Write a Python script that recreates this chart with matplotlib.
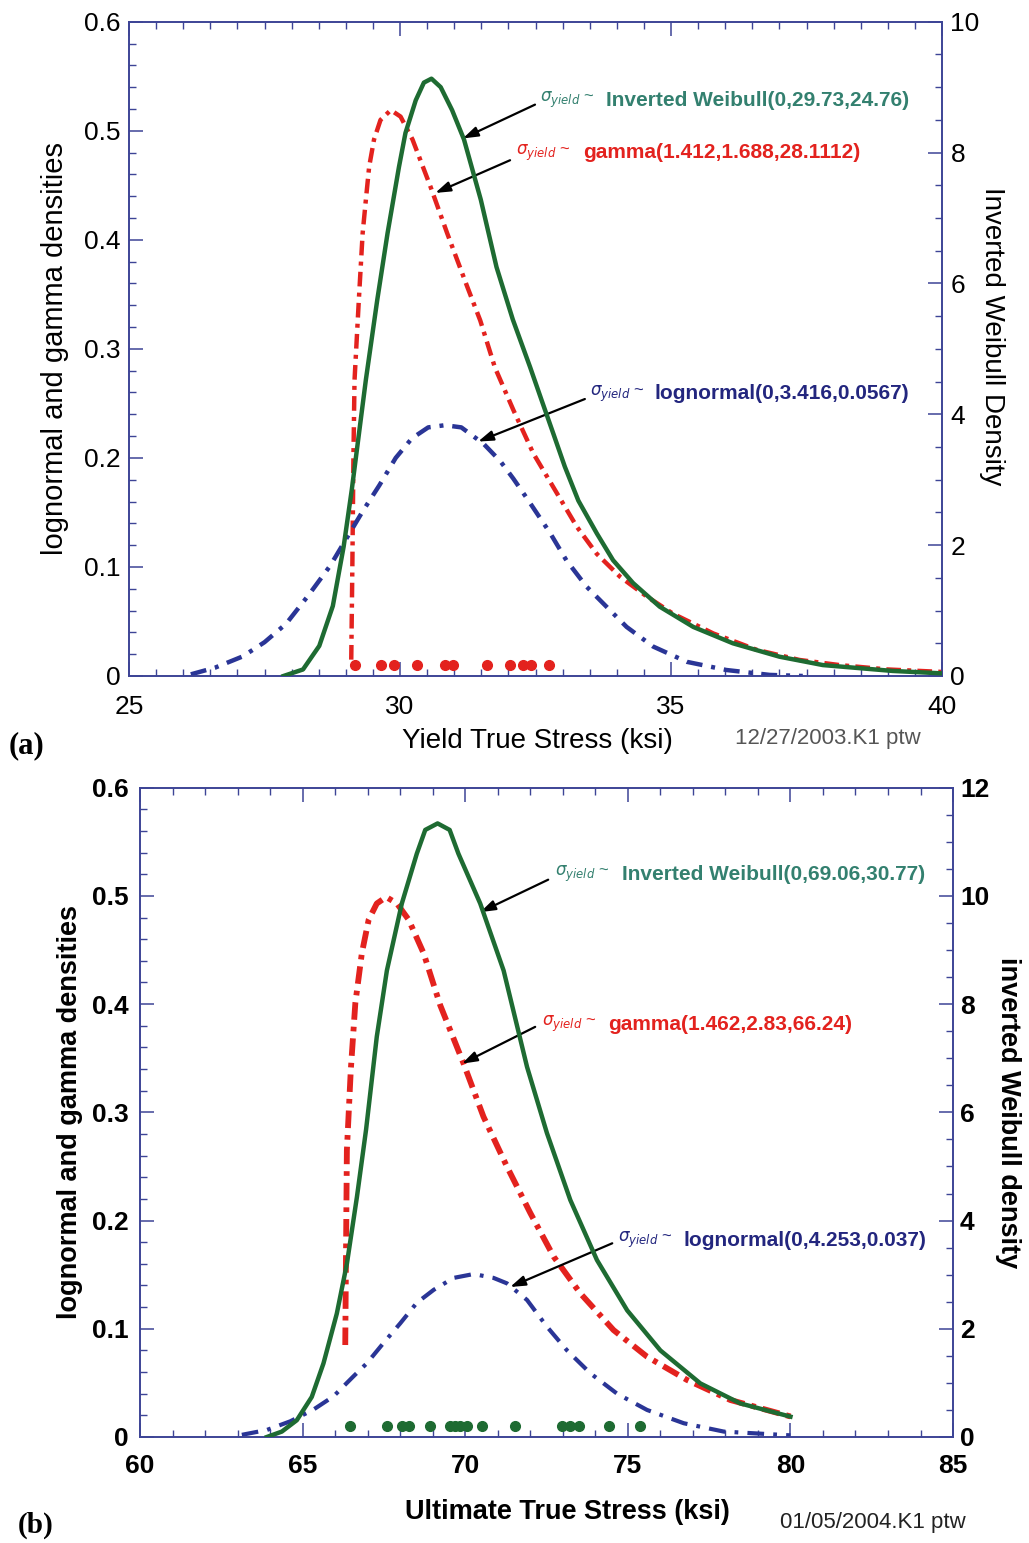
import numpy as np
import matplotlib
matplotlib.use("Agg")
import matplotlib.pyplot as plt
from matplotlib.ticker import MultipleLocator
from matplotlib import font_manager

## data, panel (a): yield stress
yx_weib = [27.85, 28.21, 28.51, 28.76, 28.96, 29.11, 29.26, 29.37, 29.58, 29.77, 29.98, 30.10,
           30.29, 30.44, 30.58, 30.75, 30.96, 31.18, 31.49, 31.78, 32.08, 32.40, 32.61, 32.83,
           33.04, 33.29, 33.63, 33.93, 34.30, 34.79, 35.41, 36.14, 37.00, 37.80, 39.09, 40.0]
yy_weib = [0.0, 0.10, 0.46, 1.07, 1.98, 2.85, 3.82, 4.53, 5.75, 6.77, 7.78, 8.30,
           8.80, 9.07, 9.13, 9.00, 8.65, 8.20, 7.28, 6.25, 5.45, 4.72, 4.22, 3.70,
           3.20, 2.68, 2.18, 1.77, 1.42, 1.06, 0.75, 0.50, 0.295, 0.167, 0.077, 0.04]   # right axis units

yx_gamma = [29.10, 29.12, 29.14, 29.16, 29.24, 29.31, 29.37, 29.43, 29.52, 29.64, 29.83, 30.01,
            30.23, 30.56, 30.87, 31.24, 31.48, 31.75, 32.09, 32.46, 32.83, 33.26, 33.63, 34.06,
            34.55, 35.04, 35.78, 36.58, 37.37, 38.11, 38.99, 40.0]
yy_gamma = [0.015, 0.10, 0.20, 0.271, 0.345, 0.406, 0.437, 0.467, 0.492, 0.510, 0.519, 0.513,
            0.492, 0.449, 0.406, 0.357, 0.326, 0.283, 0.244, 0.204, 0.173, 0.137, 0.112, 0.091,
            0.073, 0.057, 0.039, 0.024, 0.0147, 0.010, 0.006, 0.0037]

yx_logn = [26.14, 26.59, 27.10, 27.50, 27.90, 28.31, 28.71, 29.01, 29.31, 29.62, 29.92, 30.22,
           30.52, 30.83, 31.13, 31.54, 31.85, 32.09, 32.34, 32.77, 33.07, 33.44, 33.81, 34.18,
           34.67, 35.29, 36.02, 36.82, 37.43]
yy_logn = [0.0015, 0.0077, 0.018, 0.031, 0.048, 0.074, 0.101, 0.126, 0.151, 0.175, 0.200, 0.218,
           0.228, 0.230, 0.228, 0.213, 0.197, 0.181, 0.163, 0.131, 0.106, 0.082, 0.0635, 0.045,
           0.027, 0.013, 0.0055, 0.001, 0.0]

yield_obs = [29.16, 29.64, 29.89, 30.32, 30.83, 30.98, 31.60, 32.02, 32.26, 32.41, 32.74]

## panel (b): ultimate stress
ux_weib = [63.9, 64.36, 64.82, 65.28, 65.64, 66.05, 66.36, 66.67, 66.95, 67.28, 67.59, 68.05,
           68.51, 68.77, 69.15, 69.52, 69.79, 70.46, 71.18, 71.90, 72.51, 73.23, 74.05, 74.98,
           76.0, 77.23, 78.46, 80.0]
uy_weib = [0.0, 0.10, 0.31, 0.74, 1.36, 2.28, 3.20, 4.44, 5.68, 7.40, 8.62, 9.86,
           10.78, 11.22, 11.34, 11.22, 10.78, 9.86, 8.62, 6.84, 5.62, 4.38, 3.27, 2.34,
           1.60, 0.99, 0.62, 0.376]   # right axis units

ux_gamma = [66.31, 66.36, 66.48, 66.62, 66.82, 67.03, 67.28, 67.57, 67.90, 68.26, 68.72, 69.23,
            69.95, 70.56, 71.28, 72.0, 72.72, 73.54, 74.56, 75.59, 76.82, 78.15, 80.0]
uy_gamma = [0.085, 0.265, 0.339, 0.401, 0.447, 0.478, 0.493, 0.499, 0.493, 0.478, 0.447, 0.399,
            0.345, 0.296, 0.250, 0.207, 0.1666, 0.1327, 0.0988, 0.0742, 0.0527, 0.0342, 0.019]

ux_logn = [63.13, 63.90, 64.62, 65.33, 65.95, 66.56, 66.97, 67.49, 68.00, 68.51, 69.03, 69.64,
           70.26, 70.87, 71.28, 71.90, 72.51, 73.13, 73.85, 74.67, 75.59, 76.72, 77.95, 80.0]
uy_logn = [0.002, 0.0065, 0.0145, 0.0253, 0.0376, 0.056, 0.068, 0.087, 0.105, 0.124, 0.136, 0.147,
           0.1506, 0.147, 0.142, 0.1266, 0.102, 0.080, 0.0588, 0.040, 0.025, 0.0127, 0.005, 0.0015]

ult_obs = [66.46, 67.59, 68.05, 68.26, 68.92, 69.54, 69.69, 69.85, 70.05, 70.51, 71.54,
           72.98, 73.23, 73.49, 74.41, 75.38]

AXC = '#3d4496'
GREEN = '#1e6b32'
RED = '#e3221e'
BLUE = '#2a3596'
TEAL = '#33806f'
NAVY = '#23267e'
FONT = 'Liberation Sans'

plt.rcParams['font.family'] = FONT

# condensed face for the annotation texts, if there is one
try:
    font_manager.findfont(font_manager.FontProperties(family='Liberation Sans Narrow'),
                          fallback_to_default=False)
    ANN_FAMILY, ANN_SIZE = 'Liberation Sans Narrow', 18
except Exception:
    ANN_FAMILY, ANN_SIZE = FONT, 15

fig = plt.figure(figsize=(10.29, 15.43), dpi=100)


def style_axes(ax, axr, xmaj, xmin_, rmaj, weight, xpad, lpad, rpad):
    for a in (ax, axr):
        for s in a.spines.values():
            s.set_color(AXC)
            s.set_linewidth(1.2)
    ax.xaxis.set_major_locator(MultipleLocator(xmaj))
    ax.xaxis.set_minor_locator(MultipleLocator(xmin_))
    ax.yaxis.set_major_locator(MultipleLocator(0.1))
    ax.yaxis.set_minor_locator(MultipleLocator(0.02))
    axr.yaxis.set_major_locator(MultipleLocator(rmaj))
    axr.yaxis.set_minor_locator(MultipleLocator(0.5))
    ax.tick_params(which='both', direction='in', top=True, right=False, color=AXC)
    ax.tick_params(which='major', length=10, width=1.1)
    ax.tick_params(which='minor', length=5, width=1.0)
    ax.tick_params(axis='x', which='major', pad=xpad, labelsize=19)
    ax.tick_params(axis='y', which='major', pad=lpad, labelsize=19)
    axr.tick_params(which='both', direction='in', left=False, right=True, color=AXC)
    axr.tick_params(which='major', length=10, width=1.1, pad=rpad, labelsize=19)
    axr.tick_params(which='minor', length=5, width=1.0)
    for lab in ax.get_xticklabels() + ax.get_yticklabels() + axr.get_yticklabels():
        lab.set_fontweight(weight)


def ann(ax, sig_xy, txt_x, txt, color, tail, tip):
    ax.text(sig_xy[0], sig_xy[1], r'$\sigma_{yield}$ ~', color=color, fontsize=12,
            va='center', ha='left')
    ax.text(txt_x, sig_xy[1], txt, color=color, fontsize=ANN_SIZE, fontweight='bold',
            family=ANN_FAMILY, va='center', ha='left')
    ax.annotate('', xy=tip, xytext=tail,
                arrowprops=dict(arrowstyle='-|>,head_length=0.9,head_width=0.3',
                                color='black', lw=1.6, shrinkA=0, shrinkB=0))


# ---------------- panel (a)
ax1 = fig.add_axes([0.1254, 0.5619, 0.7901, 0.4240])
ax1r = ax1.twinx()
ax1.plot(yx_gamma, yy_gamma, color=RED, lw=3.2, dashes=(3.3, 1.4, 0.9, 1.4), zorder=3)
ax1.plot(yx_logn, yy_logn, color=BLUE, lw=3.2, dashes=(3.6, 2.0, 0.9, 2.0), zorder=3)
ax1.plot(yield_obs, [0.01] * len(yield_obs), ls='', marker='o', ms=7, color=RED, zorder=4)
ax1r.plot(yx_weib, yy_weib, color=GREEN, lw=3.2, zorder=3)
ax1.set_xlim(25, 40)
ax1.set_ylim(0, 0.6)
ax1r.set_ylim(0, 10)
style_axes(ax1, ax1r, 5, 0.5, 2, 'normal', 14, 6, 6)
ax1.set_yticks([0, 0.1, 0.2, 0.3, 0.4, 0.5, 0.6])
ax1.set_yticklabels(['0', '0.1', '0.2', '0.3', '0.4', '0.5', '0.6'])
ax1.set_ylabel('lognormal and gamma densities', fontsize=21, va='center')
ax1.yaxis.set_label_coords(-0.091, 0.50)
ax1.set_xlabel('Yield True Stress (ksi)', fontsize=20, va='center')
ax1.xaxis.set_label_coords(0.502, -0.099)
ax1r.set_ylabel('Inverted Weibull Density', fontsize=20, rotation=270, va='center')
ax1r.yaxis.set_label_coords(1.0615, 0.52)

ann(ax1, (32.58, 0.528), 33.80, 'Inverted Weibull(0,29.73,24.76)', TEAL,
    (32.49, 0.524), (31.16, 0.493))
ann(ax1, (32.14, 0.480), 33.37, 'gamma(1.412,1.688,28.1112)', RED,
    (32.03, 0.473), (30.65, 0.443))
ann(ax1, (33.50, 0.259), 34.70, 'lognormal(0,3.416,0.0567)', NAVY,
    (33.41, 0.254), (31.44, 0.215))

fig.text(0.714, 0.5217, '12/27/2003.K1 ptw', color='#555555', fontsize=16, va='center')
fig.text(0.008, 0.517, '(a)', family='Liberation Serif', fontweight='bold', fontsize=22,
         va='center')

# ---------------- panel (b)
ax2 = fig.add_axes([0.1361, 0.0687, 0.7901, 0.4208])
ax2r = ax2.twinx()
ax2.plot(ux_gamma, uy_gamma, color=RED, lw=4.2, dashes=(3.0, 1.2, 0.8, 1.2), zorder=3)
ax2.plot(ux_logn, uy_logn, color=BLUE, lw=3.0, dashes=(4.0, 2.2, 0.9, 2.2), zorder=3)
ax2.plot(ult_obs, [0.01] * len(ult_obs), ls='', marker='o', ms=7, color=GREEN, zorder=4)
ax2r.plot(ux_weib, uy_weib, color=GREEN, lw=3.2, zorder=3)
ax2.set_xlim(60, 85)
ax2.set_ylim(0, 0.6)
ax2r.set_ylim(0, 12)
style_axes(ax2, ax2r, 5, 1, 2, 'bold', 12, 8, 5)
ax2.set_yticks([0, 0.1, 0.2, 0.3, 0.4, 0.5, 0.6])
ax2.set_yticklabels(['0', '0.1', '0.2', '0.3', '0.4', '0.5', '0.6'], fontweight='bold')
ax2.set_ylabel('lognormal and gamma densities', fontsize=19.5, fontweight='bold', va='center')
ax2.yaxis.set_label_coords(-0.086, 0.50)
ax2.set_xlabel('Ultimate True Stress (ksi)', fontsize=19.5, fontweight='bold', va='center')
ax2.xaxis.set_label_coords(0.526, -0.1155)
ax2r.set_ylabel('inverted Weibull density', fontsize=19.5, fontweight='bold', rotation=270,
                va='center')
ax2r.yaxis.set_label_coords(1.0677, 0.50)

ann(ax2, (72.77, 0.520), 74.83, 'Inverted Weibull(0,69.06,30.77)', TEAL,
    (72.55, 0.515), (70.46, 0.485))
ann(ax2, (72.36, 0.3815), 74.38, 'gamma(1.462,2.83,66.24)', RED,
    (72.15, 0.379), (69.90, 0.345))
ann(ax2, (74.71, 0.182), 76.72, 'lognormal(0,4.253,0.037)', NAVY,
    (74.52, 0.179), (71.38, 0.1386))

fig.text(0.758, 0.0136, '01/05/2004.K1 ptw', color='#222222', fontsize=16, va='center')
fig.text(0.0175, 0.0117, '(b)', family='Liberation Serif', fontweight='bold', fontsize=21,
         va='center')

plt.savefig('out.png', dpi=100)
plt.close()
print("Completed.")
